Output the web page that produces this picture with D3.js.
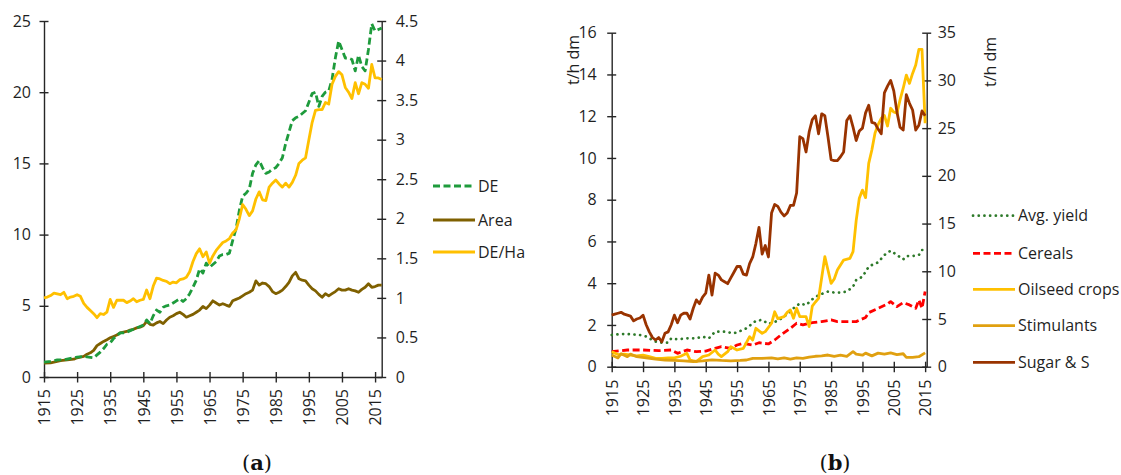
<!DOCTYPE html>
<html>
<head>
<meta charset="utf-8">
<script src="https://d3js.org/d3.v7.min.js"></script>
<style>
  body { margin:0; background:#fff; }
  .axis text { font-family:"Open Sans", sans-serif; font-size:16px; fill:#1f1f1f; }
  .axis path, .axis line { stroke:#262626; stroke-width:1.4; }
  .legend text { font-family:"Open Sans", sans-serif; font-size:16px; fill:#1f1f1f; }
  .title { font-family:"Open Sans", sans-serif; font-size:16px; fill:#1f1f1f; }
  .caption { font-family:"DejaVu Serif", serif; font-size:21px; fill:#111; }
  .line { fill:none; stroke-linejoin:round; }
</style>
</head>
<body>
<svg id="chart" width="1121" height="475"></svg>
<script>
// ---- data: panel (a) ----
var deData = [[1915,1.05],[1917,1.1],[1919,1.2],[1921,1.2],[1923,1.3],[1925,1.4],[1927,1.45],[1929,1.38],[1930,1.35],
  [1931,1.55],[1932,1.75],[1933,2.0],[1934,2.3],[1935,2.4],[1936,2.7],[1937,2.9],[1938,3.1],[1939,3.1],[1940,3.15],
  [1942,3.35],[1943,3.45],[1944,3.55],[1945,3.65],[1946,4.0],[1947,3.75],[1948,4.3],[1949,4.7],[1950,4.55],[1951,4.9],
  [1952,5.0],[1953,5.05],[1954,5.2],[1955,5.35],[1956,5.5],[1957,5.3],[1958,5.5],[1959,5.85],[1960,6.3],[1961,6.8],
  [1962,7.6],[1963,7.3],[1964,8.0],[1965,7.7],[1966,7.9],[1967,8.1],[1968,8.5],[1969,8.6],[1970,8.6],[1971,8.7],
  [1972,9.6],[1973,10.4],[1974,11.7],[1975,12.7],[1976,12.9],[1977,13.2],[1978,14.3],[1979,14.9],[1980,15.2],
  [1981,14.7],[1982,14.3],[1983,14.4],[1984,14.6],[1985,14.7],[1986,15.0],[1987,15.4],[1988,16.4],[1989,17.2],
  [1990,18.0],[1991,18.2],[1992,18.3],[1993,18.5],[1994,18.7],[1995,19.3],[1996,19.9],[1997,20.0],[1998,19.0],
  [1999,19.7],[2000,20.0],[2001,20.1],[2002,20.9],[2003,22.4],[2004,23.6],[2005,23.0],[2006,22.4],[2007,22.4],
  [2008,22.3],[2009,21.5],[2010,22.6],[2011,21.8],[2012,21.5],[2013,23.0],[2014,24.8],[2015,24.3],[2016,24.4],[2017,24.5]];

var areaData = [[1915,0.98],[1917,1.0],[1918,1.05],[1920,1.15],[1922,1.2],[1924,1.25],[1925,1.35],[1927,1.45],[1928,1.6],
  [1929,1.7],[1930,1.87],[1931,2.2],[1932,2.35],[1933,2.5],[1934,2.62],[1935,2.75],[1936,2.85],[1937,2.95],[1938,3.1],
  [1939,3.15],[1940,3.2],[1941,3.3],[1942,3.35],[1943,3.45],[1944,3.5],[1945,3.6],[1946,3.9],[1947,3.7],[1948,3.65],
  [1949,3.8],[1950,3.9],[1951,3.75],[1952,4.0],[1953,4.2],[1954,4.3],[1955,4.45],[1956,4.55],[1957,4.4],[1958,4.2],
  [1959,4.3],[1960,4.4],[1961,4.55],[1962,4.7],[1963,4.95],[1964,4.8],[1965,5.05],[1966,5.35],[1967,5.2],[1968,5.05],
  [1969,5.15],[1970,5.05],[1971,4.96],[1972,5.35],[1973,5.45],[1974,5.55],[1975,5.7],[1976,5.85],[1977,5.95],
  [1978,6.1],[1979,6.75],[1980,6.45],[1981,6.6],[1982,6.55],[1983,6.35],[1984,6.0],[1985,5.85],[1986,5.95],
  [1987,6.1],[1988,6.35],[1989,6.65],[1990,7.1],[1991,7.35],[1992,6.9],[1993,6.8],[1994,6.75],[1995,6.45],
  [1996,6.2],[1997,6.05],[1998,5.8],[1999,5.6],[2000,5.85],[2001,5.7],[2002,5.85],[2003,6.0],[2004,6.2],[2005,6.1],
  [2006,6.1],[2007,6.2],[2008,6.1],[2009,6.05],[2010,5.95],[2011,6.15],[2012,6.3],[2013,6.55],[2014,6.3],
  [2015,6.35],[2016,6.45],[2017,6.45]];

// DE/Ha, right axis
var deHaData = [[1915,1.0],[1916,1.01],[1917,1.03],[1918,1.06],[1919,1.05],[1920,1.04],[1921,1.07],[1922,0.99],
  [1923,1.01],[1924,1.02],[1925,1.04],[1926,1.02],[1927,0.93],[1928,0.88],[1929,0.84],[1930,0.80],[1931,0.75],
  [1932,0.80],[1933,0.79],[1934,0.82],[1935,0.98],[1936,0.88],[1937,0.97],[1938,0.97],[1939,0.97],[1940,0.94],
  [1941,0.96],[1942,0.99],[1943,0.95],[1944,0.97],[1945,0.98],[1946,1.10],[1947,0.99],[1948,1.15],[1949,1.25],
  [1950,1.24],[1951,1.22],[1952,1.21],[1953,1.18],[1954,1.20],[1955,1.19],[1956,1.23],[1957,1.24],[1958,1.26],
  [1959,1.33],[1960,1.46],[1961,1.56],[1962,1.62],[1963,1.52],[1964,1.58],[1965,1.44],[1966,1.53],[1967,1.60],
  [1968,1.65],[1969,1.70],[1970,1.72],[1971,1.75],[1972,1.82],[1973,1.86],[1974,2.0],[1975,2.18],[1976,2.12],
  [1977,2.04],[1978,2.10],[1979,2.25],[1980,2.34],[1981,2.24],[1982,2.23],[1983,2.40],[1984,2.45],[1985,2.49],
  [1986,2.44],[1987,2.40],[1988,2.45],[1989,2.40],[1990,2.46],[1991,2.55],[1992,2.70],[1993,2.74],[1994,2.77],
  [1995,3.0],[1996,3.22],[1997,3.37],[1998,3.38],[1999,3.38],[2000,3.47],[2001,3.45],[2002,3.70],[2003,3.80],
  [2004,3.86],[2005,3.82],[2006,3.66],[2007,3.60],[2008,3.52],[2009,3.72],[2010,3.58],[2011,3.72],[2012,3.70],
  [2013,3.65],[2014,3.95],[2015,3.78],[2016,3.78],[2017,3.76]];

// ---- data: panel (b) ----
var avgYield = [[1915,1.52],[1918,1.56],[1920,1.57],[1924,1.52],[1926,1.45],[1927,1.36],[1929,1.2],[1931,1.15],
  [1933,1.15],[1934,1.36],[1936,1.31],[1939,1.36],[1942,1.36],[1944,1.44],[1946,1.36],[1948,1.68],[1951,1.68],
  [1954,1.6],[1956,1.71],[1958,1.84],[1961,2.2],[1963,2.24],[1965,2.05],[1968,2.2],[1970,2.4],[1972,2.64],
  [1973,2.8],[1975,3.03],[1977,2.95],[1979,3.23],[1981,3.43],[1984,3.6],[1986,3.55],[1988,3.55],[1990,3.6],
  [1992,3.83],[1993,4.15],[1995,4.31],[1997,4.79],[1998,4.87],[2000,5.0],[2002,5.35],[2004,5.56],[2006,5.35],
  [2008,5.14],[2009,5.3],[2011,5.3],[2013,5.35],[2014,5.59],[2015,5.59]];

var cereals = [[1915,0.72],[1920,0.8],[1925,0.8],[1930,0.77],[1934,0.8],[1936,0.64],[1939,0.8],[1942,0.72],
  [1945,0.75],[1948,0.88],[1950,0.96],[1953,0.88],[1955,1.04],[1957,1.12],[1960,1.04],[1962,1.15],[1965,1.09],
  [1967,1.28],[1969,1.52],[1972,1.84],[1974,2.08],[1976,2.0],[1979,2.11],[1982,2.16],[1985,2.24],[1987,2.16],
  [1990,2.16],[1993,2.16],[1996,2.36],[1997,2.59],[2000,2.8],[2003,3.0],[2004,3.12],[2006,2.88],[2008,3.07],
  [2010,2.96],[2012,2.8],[2013,3.2],[2014,2.8],[2015,3.6]];

var oilseed = [[1915,0.72],[1917,0.58],[1919,0.6],[1921,0.55],[1923,0.52],[1925,0.55],[1927,0.48],[1929,0.4],
  [1931,0.4],[1933,0.42],[1935,0.42],[1937,0.5],[1939,0.64],[1940,0.32],[1942,0.24],[1944,0.48],[1946,0.56],
  [1948,0.8],[1949,0.6],[1950,0.48],[1952,0.72],[1953,0.96],[1955,0.8],[1957,0.88],[1959,1.44],[1960,1.28],
  [1961,1.84],[1963,1.6],[1964,1.68],[1966,2.08],[1967,2.63],[1968,2.3],[1970,2.4],[1971,2.6],[1972,2.72],
  [1973,2.32],[1974,2.8],[1975,2.4],[1977,2.4],[1978,1.92],[1979,2.9],[1980,3.1],[1981,3.27],[1983,5.27],
  [1984,4.63],[1985,3.99],[1986,4.2],[1987,4.63],[1989,5.11],[1991,5.19],[1992,5.51],[1993,7.0],[1994,8.07],
  [1995,8.46],[1996,8.1],[1997,9.74],[1998,10.38],[1999,11.18],[2000,11.6],[2001,11.9],[2002,12.04],[2003,11.53],
  [2004,12.38],[2005,12.2],[2006,12.14],[2007,12.78],[2008,13.34],[2009,13.97],[2010,13.57],[2011,14.05],
  [2012,14.45],[2013,15.2],[2014,15.2],[2015,11.66]];

var stimulants = [[1915,0.56],[1917,0.42],[1918,0.62],[1920,0.48],[1921,0.6],[1923,0.48],[1926,0.42],[1929,0.36],
  [1932,0.32],[1935,0.3],[1938,0.28],[1941,0.25],[1944,0.28],[1947,0.33],[1950,0.3],[1953,0.28],[1956,0.3],
  [1958,0.32],[1960,0.4],[1963,0.4],[1966,0.42],[1968,0.38],[1970,0.42],[1972,0.36],[1974,0.42],[1976,0.4],
  [1978,0.46],[1980,0.5],[1982,0.52],[1984,0.56],[1986,0.5],[1988,0.55],[1990,0.5],[1992,0.72],[1993,0.6],
  [1995,0.55],[1996,0.65],[1998,0.52],[2000,0.65],[2002,0.6],[2004,0.66],[2006,0.58],[2008,0.62],[2009,0.45],
  [2011,0.45],[2013,0.48],[2015,0.66]];

// Sugar & S, right axis
var sugar = [[1915,5.4],[1916,5.5],[1917,5.6],[1918,5.7],[1919,5.5],[1920,5.4],[1921,5.3],[1922,4.8],[1923,5.0],
  [1924,5.1],[1925,5.4],[1926,4.4],[1927,3.65],[1928,3.06],[1929,2.8],[1930,3.06],[1931,2.6],[1932,3.5],[1933,3.65],
  [1934,4.4],[1935,5.4],[1936,4.6],[1937,5.4],[1938,5.6],[1939,5.6],[1940,5.0],[1941,6.1],[1942,7.0],[1943,6.6],
  [1944,7.3],[1945,7.7],[1946,9.6],[1947,7.5],[1948,9.8],[1949,9.6],[1950,9.1],[1951,8.9],[1952,8.7],[1953,9.3],
  [1954,9.9],[1955,10.5],[1956,10.5],[1957,9.7],[1958,9.6],[1959,10.8],[1960,11.5],[1961,12.9],[1962,14.6],
  [1963,11.8],[1964,12.7],[1965,11.5],[1966,16.1],[1967,17.0],[1968,16.8],[1969,16.2],[1970,15.8],[1971,16.1],
  [1972,16.9],[1973,16.9],[1974,18.2],[1975,24.1],[1976,23.9],[1977,22.5],[1978,24.6],[1979,25.9],[1980,26.3],
  [1981,24.4],[1982,26.5],[1983,26.3],[1984,24.1],[1985,21.7],[1986,21.6],[1987,21.6],[1988,22.0],[1989,22.5],
  [1990,25.8],[1991,26.3],[1992,25.1],[1993,23.7],[1994,24.7],[1995,25.0],[1996,26.6],[1997,27.4],[1998,25.6],
  [1999,25.5],[2000,24.9],[2001,24.4],[2002,28.7],[2003,29.4],[2004,30.0],[2005,28.9],[2006,26.7],[2007,25.1],
  [2008,24.8],[2009,28.5],[2010,27.6],[2011,26.9],[2012,24.8],[2013,25.3],[2014,26.8],[2015,26.3]];

var yearTicks = d3.range(1915, 2016, 10);
var ticksA = d3.range(0, 26, 5);
var ticksAR = d3.range(0, 4.51, 0.5);
var ticksB = d3.range(0, 17, 2);
var ticksBR = d3.range(0, 36, 5);

var svg = d3.select('#chart');

// scales
var xA = d3.scaleLinear().domain([1915, 2017]).range([44, 381.7]);
var yA = d3.scaleLinear().domain([0, 25]).range([377, 21]);
var yAR = d3.scaleLinear().domain([0, 4.5]).range([377, 21]);

var xB = d3.scaleLinear().domain([1915, 2015.5]).range([611.7, 926.7]);
var yB = d3.scaleLinear().domain([0, 16]).range([366.7, 32.7]);
var yBR = d3.scaleLinear().domain([0, 35]).range([366.7, 32.7]);

var DOTS = '0.1,5.6';

//draw one line
function drawLine(data, x, y, color, dash, width) {
  var line = d3.line().x(function(d){ return x(d[0]); }).y(function(d){ return y(d[1]); });
  svg.append('path').datum(data)
    .attr('class', 'line')
    .attr('d', line)
    .attr('stroke', color)
    .attr('stroke-width', width || 2.8)
    .attr('stroke-dasharray', dash || null)
    .attr('stroke-linecap', dash === DOTS ? 'round' : 'butt');
}

// axes; ticks cross the axis line like Excel
function yAxis(scale, xpos, ticks, side, pad) {
  var ax = side === 'left' ? d3.axisLeft(scale) : d3.axisRight(scale);
  var g = svg.append('g').attr('class', 'axis')
    .attr('transform', 'translate(' + xpos + ',0)')
    .call(ax.tickValues(ticks).tickSizeOuter(0).tickFormat(function(d){ return +d.toFixed(1); }));
  g.selectAll('.tick line').attr('x1', -4.5).attr('x2', 4.5);
  g.selectAll('.tick text').attr('x', side === 'left' ? -pad : pad);
  return g;
}
function xAxis(scale, ypos, pad) {
  var g = svg.append('g').attr('class', 'axis')
    .attr('transform', 'translate(0,' + ypos + ')')
    .call(d3.axisBottom(scale).tickValues(yearTicks).tickSizeOuter(0).tickFormat(d3.format('d')));
  g.selectAll('.tick line').attr('y1', -5).attr('y2', 5.5);
  g.selectAll('.tick text')
    .attr('transform', 'rotate(-90)')
    .attr('x', -pad).attr('y', 0).attr('dy', '0.36em')
    .style('text-anchor', 'end');
}

// panel (a)
xAxis(xA, 377, 12);
yAxis(yA, 44, ticksA, 'left', 13);
yAxis(yAR, 381.7, ticksAR, 'right', 14);

drawLine(areaData, xA, yA, '#7f6000');
drawLine(deData, xA, yA, '#1e9b3c', '7,3.5');
drawLine(deHaData, xA, yAR, '#ffc000');

// panel (b)
xAxis(xB, 366.7, 13);
yAxis(yB, 611.7, ticksB, 'left', 15);
yAxis(yBR, 926.7, ticksBR, 'right', 11);

drawLine(avgYield, xB, yB, '#2e7a2a', DOTS, 2.7);
drawLine(cereals, xB, yB, '#ff0000', '7,3.5');
drawLine(oilseed, xB, yB, '#ffc000');
drawLine(stimulants, xB, yB, '#e0a010');
drawLine(sugar, xB, yBR, '#993300');

svg.append('text').attr('class', 'title')
  .attr('transform', 'translate(579,60) rotate(-90)')
  .attr('text-anchor', 'middle').text('t/h dm');
svg.append('text').attr('class', 'title')
  .attr('transform', 'translate(996,62) rotate(-90)')
  .attr('text-anchor', 'middle').text('t/h dm');

// legends
function legend(items, x0, ys) {
  var g = svg.append('g').attr('class', 'legend');
  items.forEach(function(it, i) {
    g.append('line')
      .attr('x1', x0).attr('x2', x0 + 42).attr('y1', ys[i]).attr('y2', ys[i])
      .attr('stroke', it.color).attr('stroke-width', it.width || 2.8)
      .attr('stroke-dasharray', it.dash || null)
      .attr('stroke-linecap', it.dash === DOTS ? 'round' : 'butt');
    g.append('text').attr('x', x0 + 45).attr('y', ys[i]).attr('dy', '0.36em').text(it.name);
  });
}
legend([
  {name:'DE', color:'#1e9b3c', dash:'7,3.5'},
  {name:'Area', color:'#7f6000'},
  {name:'DE/Ha', color:'#ffc000'}
], 433, [186, 220, 252]);
legend([
  {name:'Avg. yield', color:'#2e7a2a', dash:DOTS, width:2.7},
  {name:'Cereals', color:'#ff0000', dash:'7,3.5'},
  {name:'Oilseed crops', color:'#ffc000'},
  {name:'Stimulants', color:'#e0a010'},
  {name:'Sugar & S', color:'#993300'}
], 973, [215.7, 253.3, 289.3, 325.7, 362.3]);

// captions
function caption(x, letter) {
  var t = svg.append('text').attr('class', 'caption')
    .attr('x', x).attr('y', 470).attr('text-anchor', 'middle');
  t.append('tspan').text('(');
  t.append('tspan').attr('font-weight', 'bold').text(letter);
  t.append('tspan').text(')');
}
caption(257, 'a');
caption(835, 'b');
</script>
</body>
</html>
